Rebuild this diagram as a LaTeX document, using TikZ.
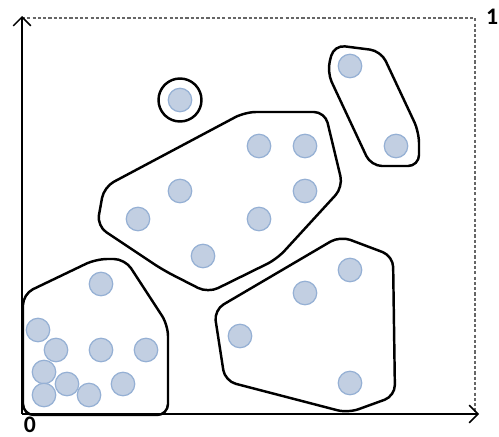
\documentclass[tikz,border=0pt]{standalone}
\usepackage{fontspec}
\setsansfont{Carlito}
\usetikzlibrary{arrows.meta}

\definecolor{pointfill}{RGB}{194,207,226}
\definecolor{pointdraw}{RGB}{149,176,212}

\begin{document}
\begin{tikzpicture}[
        x=0.02cm, y=-0.02cm,
        point/.style={
            circle,
            fill=pointfill,
            draw=pointdraw,
            line width=0.7pt,
            minimum size=0.47cm,
            inner sep=0pt
        },
        cluster/.style={
            draw=black,
            line width=1.4pt,
            rounded corners=0.22cm
        },
        axis/.style={
            -{Straight Barb[length=5pt,width=10pt]},
            line width=0.85pt
        },
        frame/.style={
            draw=black!60,
            line width=1.2pt,
            dash pattern=on 1.8pt off 1.2pt
        },
        tick/.style={
            font=\sffamily\bfseries\fontsize{13.5pt}{15pt}\selectfont,
            inner sep=0pt
        }
    ]

        \useasboundingbox (0,0) rectangle (499,436);

        % axes and frame
        \coordinate (origin) at (22,414);
        \coordinate (xend) at (479,414);
        \coordinate (yend) at (22,16);
        \coordinate (topleft) at (22,18);
        \coordinate (topright) at (475,18);
        \coordinate (botright) at (475,414);

        \draw[frame] (topleft) -- (topright) -- (botright);
        \draw[axis] (origin) -- (xend);
        \draw[axis] (origin) -- (yend);

        \node[tick] (zero) at (30,425) {0};
        \node[tick] (one) at (492,17) {1};

        % clusters
        \draw[cluster] (180,100) circle (21.5);
        \draw[cluster] (334,45) -- (381,51) -- (419,132) -- (419,166)
            -- (371,166) -- (327,72) -- cycle;
        \draw[cluster] (104,187) -- (245,112) -- (325,112) -- (343,187)
            -- (277,259) -- (208,293) -- (163,270) -- (97,226) -- cycle;
        \draw[cluster] (214,310) -- (340,236) -- (393,256) -- (395,396)
            -- (348,413) -- (225,381) -- cycle;
        \draw[cluster] (23,294) -- (96,259) -- (125,259) -- (168,325)
            -- (168,415) -- (23,415) -- cycle;

        % points
        \node[point] (p1) at (180,100) {};
        \node[point] (p2) at (350,66) {};
        \node[point] (p3) at (396,146) {};

        \node[point] (p4) at (259,146) {};
        \node[point] (p5) at (305,146) {};
        \node[point] (p6) at (180,191) {};
        \node[point] (p7) at (305,191) {};
        \node[point] (p8) at (138,219) {};
        \node[point] (p9) at (259,219) {};
        \node[point] (p10) at (203,256) {};

        \node[point] (p11) at (350,270) {};
        \node[point] (p12) at (305,293) {};
        \node[point] (p13) at (240,336) {};
        \node[point] (p14) at (350,383) {};

        \node[point] (p15) at (101,284) {};
        \node[point] (p16) at (38,330) {};
        \node[point] (p17) at (56,350) {};
        \node[point] (p18) at (101,350) {};
        \node[point] (p19) at (146,350) {};
        \node[point] (p20) at (44,372) {};
        \node[point] (p21) at (67,384) {};
        \node[point] (p22) at (123,384) {};
        \node[point] (p23) at (44,395) {};
        \node[point] (p24) at (89,395) {};

    \end{tikzpicture}
\end{document}
